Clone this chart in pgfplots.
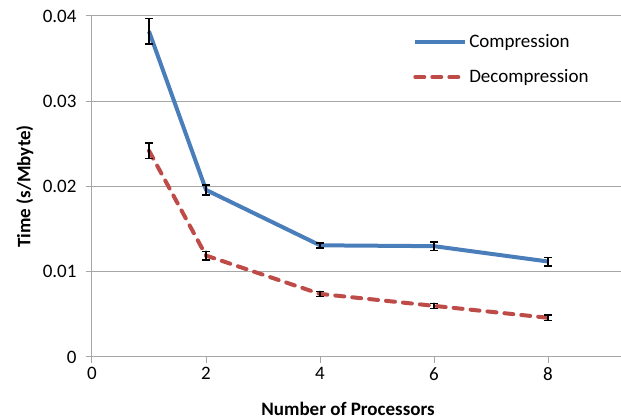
\documentclass[border=0pt]{standalone}
\usepackage{fontspec}
\setmainfont{Carlito}
\usepackage{pgfplots}
\pgfplotsset{compat=1.18}
\definecolor{cblue}{HTML}{4A7EBB}
\definecolor{cred}{HTML}{BE4B48}
\definecolor{gridc}{HTML}{A6A6A6}
\begin{document}
\begin{tikzpicture}
\useasboundingbox (-92pt,-62pt) rectangle (529pt,357pt);
\begin{axis}[
  scale only axis, width=529pt, height=341pt,
  xmin=0, xmax=9.28, ymin=0, ymax=0.04,
  axis lines=left,
  axis line style={gridc, line width=1pt, -},
  xtick={0,2,4,6,8},
  ytick={0,0.01,0.02,0.03,0.04},
  scaled y ticks=false,
  tick style={gridc, line width=1pt},
  tick align=outside,
  major tick length=6pt,
  ymajorgrids,
  grid style={gridc, line width=1pt},
  font=\fontsize{19}{22}\selectfont,
  /pgf/number format/assume math mode=true,
  yticklabel style={/pgf/number format/fixed, /pgf/number format/precision=2, xshift=-6pt},
  xticklabel style={yshift=-1pt},
  xlabel={\bfseries Number of Processors},
  ylabel={\bfseries Time (s/Mbyte)},
  every axis x label/.style={at={(axis description cs:0.484,0)}, anchor=center, yshift=-52pt},
  every axis y label/.style={at={(axis description cs:-0.127,0.5)}, anchor=center, rotate=90},
  legend style={draw=none, fill=none, at={(axis description cs:0.607,0.953)}, anchor=north west, inner sep=0pt, row sep=17pt},
  legend cell align=left,
  legend image code/.code={\draw[#1] (0pt,0pt) -- (50pt,0pt);},
  /tikz/every even column/.append style={column sep=6pt},
]
\addplot[cblue, line width=4pt, line join=round,
  error bars/.cd, y dir=both, y explicit,
  error bar style={black, line width=1.5pt, solid},
  error mark options={black, line width=1.5pt, mark size=4pt, solid, rotate=90}]
  coordinates {
  (1,0.0382) +- (0,0.0015)
  (2,0.0196) +- (0,0.0006)
  (4,0.0131) +- (0,0.0003)
  (6,0.0130) +- (0,0.0005)
  (8,0.0112) +- (0,0.0005)
};
\addlegendentry{Compression}
\addplot[cred, line width=4pt, line cap=round, dash pattern=on 9pt off 8pt,
  error bars/.cd, y dir=both, y explicit,
  error bar style={black, line width=1.5pt, solid},
  error mark options={black, line width=1.5pt, mark size=4pt, solid, rotate=90}]
  coordinates {
  (1,0.0242) +- (0,0.0009)
  (2,0.0119) +- (0,0.0005)
  (4,0.0074) +- (0,0.0003)
  (6,0.0060) +- (0,0.0003)
  (8,0.0046) +- (0,0.0003)
};
\addlegendentry{Decompression}
\end{axis}
\end{tikzpicture}
\end{document}
